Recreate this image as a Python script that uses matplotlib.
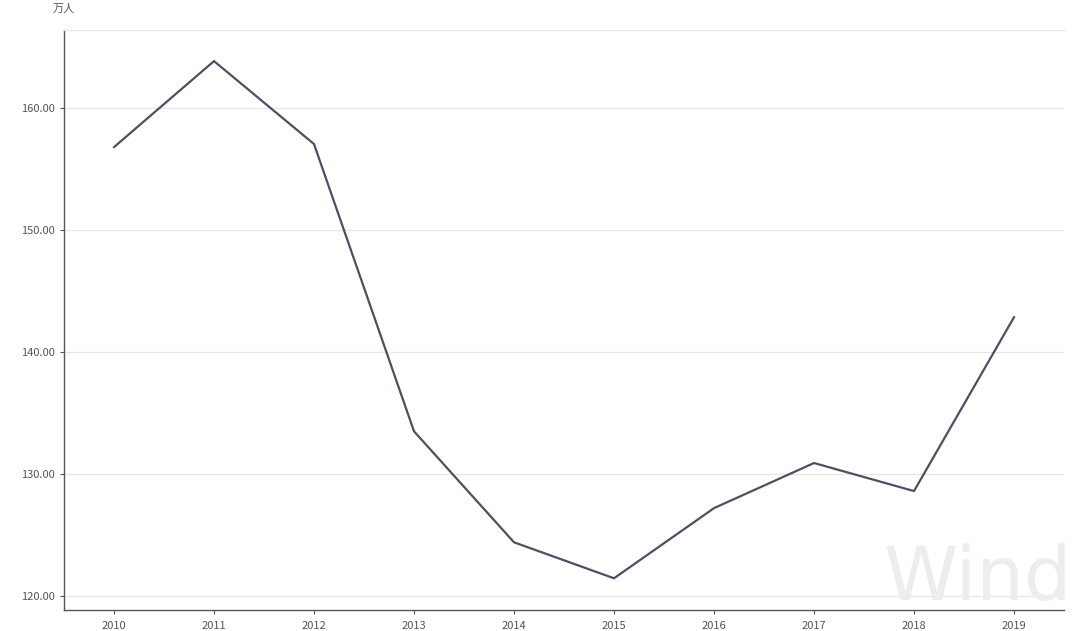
import matplotlib
matplotlib.use("Agg")
import matplotlib.pyplot as plt

plt.rcParams['font.family'] = ['Noto Sans CJK SC', 'DejaVu Sans']

years = [2010, 2011, 2012, 2013, 2014, 2015, 2016, 2017, 2018, 2019]
values = [156.8, 163.85, 157.05, 133.5, 124.4, 121.45, 127.2, 130.9, 128.6, 142.85]
yticks = [120, 130, 140, 150, 160]
unit = "万人"

fig = plt.figure(figsize=(10.8, 6.31), dpi=100)
ax = fig.add_axes([64/1080, 1-610/631, 1000/1080, 580/631])

ax.plot(years, values, color='#4b5163', lw=1.6, zorder=3)
ax.set_xlim(2009.5, 2019.5)
ax.set_ylim(118.85, 166.4)
ax.set_xticks(years)
ax.set_xticklabels([str(y) for y in years])
ax.set_yticks(yticks)
ax.set_yticklabels([f"{v:.2f}" for v in yticks])
ax.grid(axis='y', color='#e6e6e6', lw=0.9)
ax.set_axisbelow(True)
for s in ['left', 'bottom']:
    ax.spines[s].set_color('#555555')
    ax.spines[s].set_linewidth(1.0)
ax.spines['right'].set_visible(False)
ax.spines['top'].set_color('#e6e6e6')
ax.spines['top'].set_linewidth(0.9)
ax.tick_params(axis='both', colors='#555555', labelcolor='#555555', labelsize=8, length=3, width=0.8, direction='out')
ax.tick_params(axis='x', pad=5)

fig.text(53/1080, 1-9/631, unit, fontsize=8, color='#555555', ha='left', va='center')
fig.text(978/1080, 1-616/631, "Wind", fontsize=54, color='#ededed',
         ha='center', va='bottom', zorder=0, family='DejaVu Sans')

fig.savefig("out.png", dpi=100)
